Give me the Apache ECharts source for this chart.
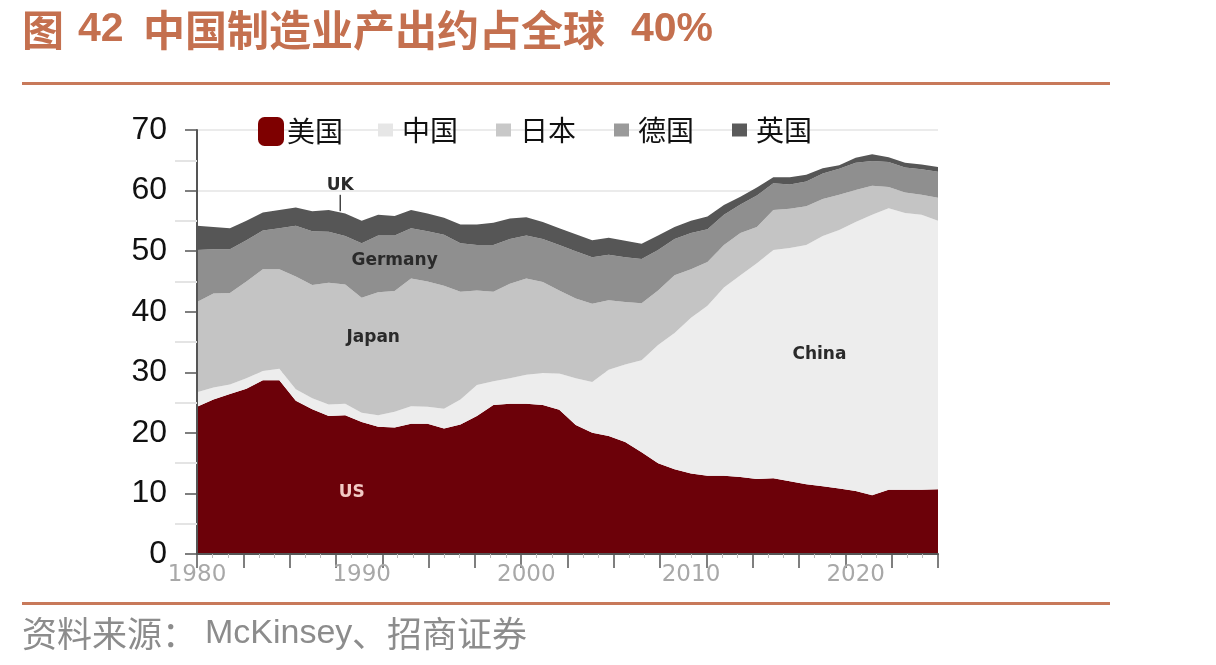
<!DOCTYPE html>
<html>
<head>
<meta charset="utf-8">
<script src="https://cdn.jsdelivr.net/npm/echarts@6/dist/echarts.min.js"></script>
<style>
html,body{margin:0;padding:0;background:#fff;}
#c{width:1216px;height:665px;}
</style>
</head>
<body>
<div id="c"></div>
<script>
const years = [1980,1981,1982,1983,1984,1985,1986,1987,1988,1989,
  1990,1991,1992,1993,1994,1995,1996,1997,1998,1999,
  2000,2001,2002,2003,2004,2005,2006,2007,2008,2009,
  2010,2011,2012,2013,2014,2015,2016,2017,2018,2019,
  2020,2021,2022,2023,2024,2025];
const usData = [24.3,25.5,26.4,27.3,28.7,28.7,25.3,23.9,22.8,22.9,
  21.8,21.0,20.9,21.5,21.5,20.7,21.4,22.8,24.6,24.8,
  24.8,24.6,23.8,21.3,20.0,19.5,18.5,16.8,15.0,14.0,
  13.3,12.9,12.9,12.7,12.4,12.5,12.0,11.5,11.2,10.8,
  10.4,9.7,10.6,10.6,10.6,10.7];
const chinaData = [2.4,2.0,1.6,1.7,1.5,1.9,1.9,1.8,1.9,1.9,
  1.5,1.9,2.6,2.9,2.8,3.3,4.1,5.1,3.9,4.2,
  4.8,5.3,6.0,7.7,8.4,10.9,12.8,15.2,19.5,22.5,
  25.7,28.1,31.1,33.3,35.6,37.7,38.5,39.5,41.3,42.7,
  44.4,46.3,46.5,45.7,45.4,44.3];
const japanData = [14.9,15.5,15.1,16.0,16.8,16.4,18.6,18.7,20.1,19.7,
  19.0,20.3,19.9,21.1,20.7,20.3,17.8,15.6,14.8,15.6,
  15.9,15.0,13.7,13.2,12.9,11.5,10.3,9.4,9.0,9.5,
  8.0,7.2,7.0,7.0,6.0,6.6,6.5,6.4,6.1,5.8,
  5.3,4.8,3.5,3.4,3.3,3.8];
const germanyData = [8.6,7.3,7.2,6.8,6.4,6.8,8.4,8.9,8.4,8.0,
  9.0,9.4,9.2,8.3,8.3,8.4,8.0,7.5,7.7,7.4,
  7.1,7.1,7.5,7.8,7.7,7.5,7.4,7.3,6.7,6.0,
  6.0,5.4,5.0,4.7,5.2,4.4,4.0,4.1,4.2,4.3,
  4.5,4.1,4.1,4.1,4.2,4.3];
const ukData = [4.0,3.7,3.5,3.2,3.0,3.0,3.0,3.3,3.6,3.7,
  3.7,3.4,3.2,3.0,2.9,2.8,3.1,3.4,3.7,3.4,
  3.0,2.8,2.8,2.8,2.8,2.8,2.7,2.5,2.4,2.0,
  2.0,2.1,1.6,1.3,1.3,1.0,1.2,1.1,0.9,0.6,
  0.8,1.1,0.8,0.8,0.8,0.8];
const seriesNames = ['美国','中国','日本','德国','英国'];
const yTicks = [0,10,20,30,40,50,60,70];
const annotations = [
  ['UK',1988.7,60.8],
  ['Germany',1992.0,48.4],
  ['Japan',1990.7,35.7],
  ['China',2017.8,32.9],
  ['US',1989.4,10.1]
];
const titleParts = ['图','42','中国制造业产出约占全球','40%'];
const sourceParts = ['资料来源：','McKinsey','、招商证券'];

const colors = ['#6c0109','#ededed','#c4c4c4','#8f8f8f','#565656'];
const legendColors = ['#7e0000','#e6e6e6','#c8c8c8','#9a9a9a','#5a5a5a'];
const datas = [usData, chinaData, japanData, germanyData, ukData];

const chart = echarts.init(document.getElementById('c'));

const series = seriesNames.map((n,i)=>({
  name: n,
  type: 'line',
  stack: 'total',
  data: datas[i],
  symbol: 'none',
  lineStyle: {width: 0},
  areaStyle: {color: colors[i], opacity: 1},
  itemStyle: {color: legendColors[i]},
  yAxisIndex: 0,
  xAxisIndex: 0,
  z: 2
}));

const titleColor = '#c4704f';
const cjk = '"Noto Sans CJK SC", sans-serif';

chart.setOption({
  animation: false,
  backgroundColor: '#ffffff',
  grid: {left: 197, right: 278, top: 130, bottom: 111, containLabel: false},
  legend: [
    {data: ['美国'], left: 258, top: 117, padding: 0, itemWidth: 26, itemHeight: 29, itemGap: 0,
     icon: 'roundRect',
     textStyle: {fontSize: 28, fontFamily: cjk, color: '#111', padding: [0,0,0,-2]}},
    {data: ['中国','日本','德国','英国'], left: 378, top: 116, padding: 0, itemWidth: 15, itemHeight: 13, itemGap: 38,
     icon: 'rect',
     textStyle: {fontSize: 28, fontFamily: cjk, color: '#111', padding: [0,0,0,4]}}
  ],
  xAxis: [
    {type: 'category', data: years, boundaryGap: false,
     axisLine: {show: true, lineStyle: {color: '#555', width: 2}},
     axisTick: {show: false},
     axisLabel: {interval: (idx, v) => Number(v) % 10 === 0, fontSize: 23, fontFamily: 'DejaVu Sans', color: '#a8a8a8', margin: 10},
     splitLine: {show: false}, z: 5},
    {type: 'value', min: 1980, max: 2025, interval: 2.8125, position: 'bottom',
     axisLine: {show: false},
     axisTick: {show: true, length: 14, lineStyle: {color: '#555', width: 1.5}},
     minorTick: {show: true, splitNumber: 3, length: 4, lineStyle: {color: '#bbb'}},
     axisLabel: {show: false}, splitLine: {show: false}, z: 5}
  ],
  yAxis: [
    {type: 'value', min: 0, max: 70, interval: 10,
     axisLine: {show: true, lineStyle: {color: '#555', width: 2}},
     axisTick: {show: true, length: 12, lineStyle: {color: '#555', width: 1.5}},
     minorTick: {show: true, splitNumber: 2, length: 22, lineStyle: {color: '#e4e4e4', width: 2}},
     axisLabel: {fontSize: 32, fontFamily: '"Liberation Sans", Arial, sans-serif', color: '#111', margin: 30,
       formatter: v => yTicks.includes(v) ? String(v) : ''},
     splitLine: {show: false},
     z: 5},
    {type: 'value', min: 0, max: 70, interval: 10, position: 'left',
     axisLine: {show: false}, axisTick: {show: false}, axisLabel: {show: false},
     splitLine: {show: true, lineStyle: {color: '#ebebeb', width: 2}},
     z: 0}
  ],
  series: series
});

// annotation texts placed through the axes' scales
const graphics = [];
annotations.forEach(a => {
  const x = chart.convertToPixel({xAxisIndex: 1}, a[1]);
  const y = chart.convertToPixel({yAxisIndex: 0}, a[2]);
  graphics.push({type: 'text', x: x, y: y, z: 50,
    style: {text: a[0], fill: a[0]==='US' ? '#f2c9c4' : '#2a2a2a',
      font: 'bold 17px "DejaVu Sans", sans-serif', textAlign: 'center', textVerticalAlign: 'middle'}});
});
{
  const x = chart.convertToPixel({xAxisIndex: 1}, 1988.7);
  const y1 = chart.convertToPixel({yAxisIndex: 0}, 59.3);
  const y2 = chart.convertToPixel({yAxisIndex: 0}, 56.6);
  graphics.push({type: 'line', z: 50, shape: {x1: x, y1: y1, x2: x, y2: y2}, style: {stroke: '#444', lineWidth: 1.5}});
}
// title
const titleX = [22, 78, 143, 631];
titleParts.forEach((t,i) => {
  const latin = /^[0-9%]+$/.test(t);
  graphics.push({type: 'text', x: titleX[i], y: 30, z: 50,
    style: {text: t, fill: titleColor, textVerticalAlign: 'middle',
      font: latin ? 'bold 41px "Liberation Sans", Arial, sans-serif' : 'bold 42px ' + cjk}});
});
graphics.push({type: 'rect', z: 50, shape: {x: 22, y: 82, width: 1088, height: 3}, style: {fill: '#c8795a'}});
graphics.push({type: 'rect', z: 50, shape: {x: 22, y: 602, width: 1088, height: 3}, style: {fill: '#c8795a'}});
// source
const srcX = [22, 205, 352];
sourceParts.forEach((t,i) => {
  graphics.push({type: 'text', x: srcX[i], y: 634, z: 50,
    style: {text: t, fill: '#8c8c8c', textVerticalAlign: 'middle',
      font: (i===1 ? '34px "Liberation Sans", Arial, sans-serif' : '35px ' + cjk)}});
});
chart.setOption({graphic: graphics});
</script>
</body>
</html>
